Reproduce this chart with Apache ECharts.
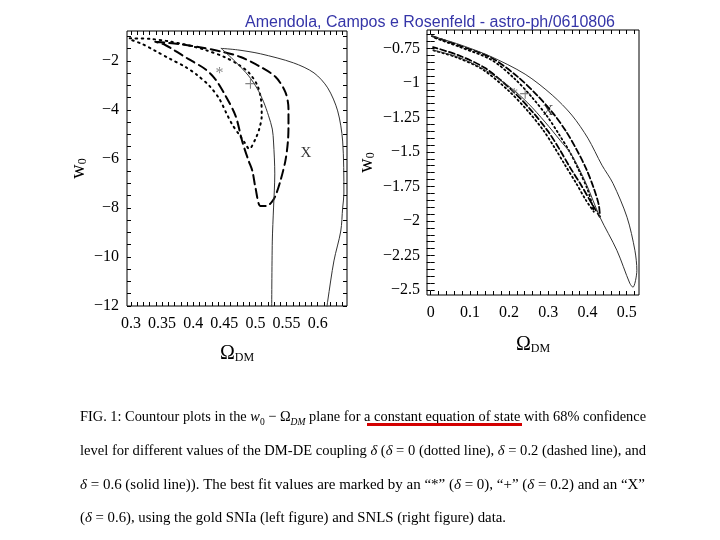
<!DOCTYPE html>
<html><head><meta charset="utf-8">
<script src="https://cdn.jsdelivr.net/npm/echarts@6/dist/echarts.min.js"></script>
<style>html,body{margin:0;padding:0;background:#fff}#c{width:720px;height:540px}</style>
</head><body><div id="c"></div>
<script>
// ---------------- data ----------------
const titleText = 'Amendola, Campos e Rosenfeld - astro-ph/0610806';

// left panel (gold SNIa): [Omega_DM, w0]
const leftDotted = [[0.298,-1.08],[0.33,-1.10],[0.36,-1.20],[0.39,-1.35],[0.42,-1.56],[0.45,-1.84],[0.472,-2.14],[0.49,-2.50],[0.503,-3.00],[0.509,-3.60],[0.510,-4.24],[0.506,-4.78],[0.500,-5.18],[0.490,-5.59],[0.482,-5.31],[0.473,-4.98],[0.463,-4.61],[0.453,-4.12],[0.442,-3.55],[0.426,-3.02],[0.406,-2.57],[0.387,-2.24],[0.363,-1.92],[0.339,-1.59],[0.318,-1.31],[0.298,-1.12]];
const leftDashed = [[0.339,-1.22],[0.376,-1.31],[0.408,-1.43],[0.447,-1.63],[0.476,-1.84],[0.505,-2.20],[0.532,-2.65],[0.548,-3.27],[0.553,-3.96],[0.553,-4.65],[0.552,-5.31],[0.548,-6.08],[0.540,-6.90],[0.532,-7.51],[0.526,-7.76],[0.518,-7.92],[0.508,-7.92],[0.500,-7.18],[0.495,-6.49],[0.489,-6.08],[0.479,-5.31],[0.468,-4.24],[0.452,-3.43],[0.435,-2.73],[0.419,-2.33],[0.392,-1.92],[0.371,-1.59],[0.355,-1.35],[0.339,-1.22]];
const leftSolidInner = [[0.445,-1.49],[0.468,-2.04],[0.489,-2.61],[0.503,-3.14],[0.513,-3.67],[0.521,-4.24],[0.527,-4.78],[0.529,-5.31],[0.531,-6.61],[0.529,-8.00],[0.527,-9.35],[0.526,-12.2]];
const leftSolidOuter = [[0.445,-1.49],[0.471,-1.55],[0.508,-1.71],[0.561,-2.08],[0.594,-2.49],[0.616,-3.10],[0.632,-4.04],[0.640,-5.27],[0.642,-7.43],[0.640,-8.00],[0.637,-8.94],[0.626,-10.16],[0.616,-11.80],[0.614,-12.2]];
const leftBestX = [0.442, 0.492, 0.581];
const leftBestY = [-2.42, -3.01, -5.76];

// right panel (SNLS)
const rightDotted = [[0.011,-0.675],[0.075,-0.741],[0.156,-0.835],[0.215,-0.972],[0.258,-1.103],[0.297,-1.241],[0.327,-1.371],[0.355,-1.501],[0.378,-1.632],[0.399,-1.762],[0.411,-1.871],[0.417,-1.936],[0.396,-1.849],[0.371,-1.726],[0.343,-1.596],[0.317,-1.473],[0.287,-1.342],[0.248,-1.204],[0.197,-1.052],[0.131,-0.900],[0.064,-0.813],[0.003,-0.762]];
const rightDashed = [[0.003,-0.661],[0.070,-0.726],[0.156,-0.820],[0.223,-0.958],[0.271,-1.088],[0.312,-1.219],[0.345,-1.349],[0.373,-1.487],[0.396,-1.617],[0.416,-1.762],[0.429,-1.886],[0.432,-1.973],[0.409,-1.864],[0.384,-1.741],[0.355,-1.610],[0.330,-1.487],[0.299,-1.349],[0.258,-1.204],[0.207,-1.052],[0.139,-0.893],[0.070,-0.799],[0.006,-0.741]];
const rightSolid = [[0.003,-0.661],[0.070,-0.719],[0.151,-0.806],[0.241,-0.937],[0.310,-1.088],[0.360,-1.233],[0.401,-1.400],[0.437,-1.596],[0.465,-1.727],[0.501,-1.973],[0.521,-2.212],[0.526,-2.357],[0.516,-2.480],[0.508,-2.451],[0.475,-2.212],[0.432,-1.973],[0.396,-1.726],[0.360,-1.523],[0.330,-1.415],[0.292,-1.284],[0.248,-1.146],[0.202,-1.030],[0.139,-0.907],[0.070,-0.813],[0.006,-0.762]];
const rightBestX = [0.213, 0.241, 0.300];
const rightBestY = [-1.062, -1.091, -1.207];

const bestSymbols = ['*', '+', 'X'];

// tick labels
const leftXLabels = [0.3, 0.35, 0.4, 0.45, 0.5, 0.55, 0.6];
const leftYLabels = [-12, -10, -8, -6, -4, -2];
const rightXLabels = [0, 0.1, 0.2, 0.3, 0.4, 0.5];
const rightYLabels = [-2.5, -2.25, -2, -1.75, -1.5, -1.25, -1, -0.75];

// caption
const captionLines = [
  [['t','FIG. 1: Countour plots in the '],['i','w'],['s','0'],['t',' \u2212 \u03A9'],['si','DM'],['t',' plane for a constant equation of state with 68% confidence']],
  [['t','level for different values of the DM-DE coupling '],['i','\u03B4'],['t',' ('],['i','\u03B4'],['t',' = 0 (dotted line), '],['i','\u03B4'],['t',' = 0.2 (dashed line), and']],
  [['i','\u03B4'],['t',' = 0.6 (solid line)). The best fit values are marked by an \u201C*\u201D ('],['i','\u03B4'],['t',' = 0), \u201C+\u201D ('],['i','\u03B4'],['t',' = 0.2) and an \u201CX\u201D']],
  [['t','('],['i','\u03B4'],['t',' = 0.6), using the gold SNIa (left figure) and SNLS (right figure) data.']]
];

// ---------------- layout / style ----------------
const capX = 80;
const capY = [417, 451, 485, 518];
const capW = [566, 566, 565, 426];
const SERIF = '"Liberation Serif", "Times New Roman", serif';

function steps(a, b, s) { const out = []; const n = Math.round((b - a) / s); for (let i = 0; i <= n; i++) out.push(+(a + i * s).toFixed(4)); return out; }
const fmt = v => String(+(+v).toFixed(3)).replace('-', '\u2212');

function axisPair(dim, gi, pos, opp, min, max, labels, ticks, margin, name, nameGap) {
  const base = { type: 'value', gridIndex: gi, min: min, max: max, splitLine: { show: false }, axisLine: { show: false } };
  const tick = { show: true, inside: true, length: 4, customValues: ticks, lineStyle: { color: '#000', width: 1 } };
  const a = Object.assign({}, base, {
    position: pos,
    axisTick: tick,
    axisLabel: { show: true, customValues: labels, formatter: fmt, margin: margin, color: '#000', fontFamily: SERIF, fontSize: 16 },
    name: name, nameLocation: 'middle', nameGap: nameGap,
    nameRotate: dim === 'y' ? 90 : 0,
    nameTextStyle: { color: '#000', rich: {
      b: { fontFamily: SERIF, fontSize: 20, color: '#000' },
      s: { fontFamily: SERIF, fontSize: 12, color: '#000', verticalAlign: 'bottom', lineHeight: 14 }
    } }
  });
  const b = Object.assign({}, base, { position: opp, axisTick: tick, axisLabel: { show: false } });
  return [a, b];
}

const xAxes = [].concat(
  axisPair('x', 0, 'bottom', 'top', 0.2936, 0.647, leftXLabels, steps(0.30, 0.64, 0.01), 10, '{b|\u03A9}{s|DM}', 38),
  axisPair('x', 1, 'bottom', 'top', -0.0094, 0.5315, rightXLabels, steps(0, 0.52, 0.02), 10, '{b|\u03A9}{s|DM}', 40)
);
const yAxes = [].concat(
  axisPair('y', 0, 'left', 'right', -12, -0.78, leftYLabels, steps(-12, -1, 0.5), 8, '{b|w}{s|0}', 38),
  axisPair('y', 1, 'left', 'right', -2.536, -0.617, rightYLabels, steps(-2.5, -0.65, 0.05), 7, '{b|w}{s|0}', 50)
);

function line(data, xi, yi, dash, width, color) {
  return { type: 'line', data: data, xAxisIndex: xi, yAxisIndex: yi, showSymbol: false, symbol: 'none', smooth: 0.3,
    lineStyle: { color: color, width: width, type: dash, cap: 'round' }, silent: true, clip: true, z: 3 };
}
const markStyle = {
  '*': { color: '#666', fontSize: 16, fontFamily: SERIF, offset: [0, 3] },
  '+': { color: '#666', fontSize: 22, fontFamily: SERIF, offset: [0, 0] },
  'X': { color: '#000', fontSize: 15, fontFamily: SERIF, offset: [0, 0] }
};
function markers(xs, ys, xi, yi, scale) {
  return { type: 'scatter', xAxisIndex: xi, yAxisIndex: yi, symbolSize: 1, itemStyle: { color: 'rgba(0,0,0,0)' }, silent: true, z: 5,
    data: xs.map((x, i) => {
      const st = markStyle[bestSymbols[i]];
      return { name: bestSymbols[i], value: [x, ys[i]],
        label: { show: true, position: 'inside', formatter: '{b}', color: st.color, fontFamily: st.fontFamily,
          fontSize: Math.round(st.fontSize * scale), offset: st.offset } };
    }) };
}

// caption graphic
const capRich = {
  t: { fontFamily: SERIF, fontSize: 15, color: '#000', lineHeight: 20 },
  i: { fontFamily: SERIF, fontSize: 15, fontStyle: 'italic', color: '#000', lineHeight: 20 },
  s: { fontFamily: SERIF, fontSize: 10, color: '#000', verticalAlign: 'bottom', lineHeight: 12 },
  si: { fontFamily: SERIF, fontSize: 10, fontStyle: 'italic', color: '#000', verticalAlign: 'bottom', lineHeight: 12 }
};
const mctx = document.createElement('canvas').getContext('2d');
function measure(parts) {
  let w = 0;
  for (const [k, t] of parts) { const st = capRich[k]; mctx.font = (st.fontStyle || 'normal') + ' ' + st.fontSize + 'px ' + st.fontFamily; w += mctx.measureText(t).width; }
  return w;
}
const graphics = captionLines.map((parts, i) => ({
  type: 'text', x: capX, y: capY[i], scaleX: capW[i] / measure(parts), z: 10,
  style: { text: parts.map(([k, t]) => '{' + k + '|' + t + '}').join(''), rich: capRich, align: 'left', verticalAlign: 'middle', fill: '#000' }
}));
graphics.push({ type: 'rect', shape: { x: 367, y: 423, width: 155, height: 3 }, style: { fill: '#d40000' }, z: 11 });

const chart = echarts.init(document.getElementById('c'), null, { renderer: 'canvas', width: 720, height: 540 });
chart.setOption({
  backgroundColor: '#fff',
  animation: false,
  title: { text: titleText, left: 240, top: 10, textStyle: { fontFamily: '"Liberation Sans", Arial, sans-serif', fontSize: 16, fontWeight: 'normal', color: '#3535a8' } },
  grid: [
    { left: 127, top: 31, width: 220, height: 275, show: true, borderColor: '#000', borderWidth: 1, backgroundColor: 'transparent' },
    { left: 427, top: 30, width: 212, height: 265, show: true, borderColor: '#000', borderWidth: 1, backgroundColor: 'transparent' }
  ],
  xAxis: xAxes,
  yAxis: yAxes,
  series: [
    line(leftDotted, 0, 0, [1.5, 4.5], 2, '#000'),
    line(leftDashed, 0, 0, [9, 5], 2, '#000'),
    line(leftSolidInner, 0, 0, 'solid', 1, '#333'),
    line(leftSolidOuter, 0, 0, 'solid', 1, '#333'),
    markers(leftBestX, leftBestY, 0, 0, 1),
    line(rightDotted, 2, 2, [1.5, 3], 1.8, '#000'),
    line(rightDashed, 2, 2, [6, 3], 1.8, '#000'),
    line(rightSolid, 2, 2, 'solid', 1, '#333'),
    markers(rightBestX, rightBestY, 2, 2, 1)
  ],
  graphic: graphics
});
</script></body></html>
